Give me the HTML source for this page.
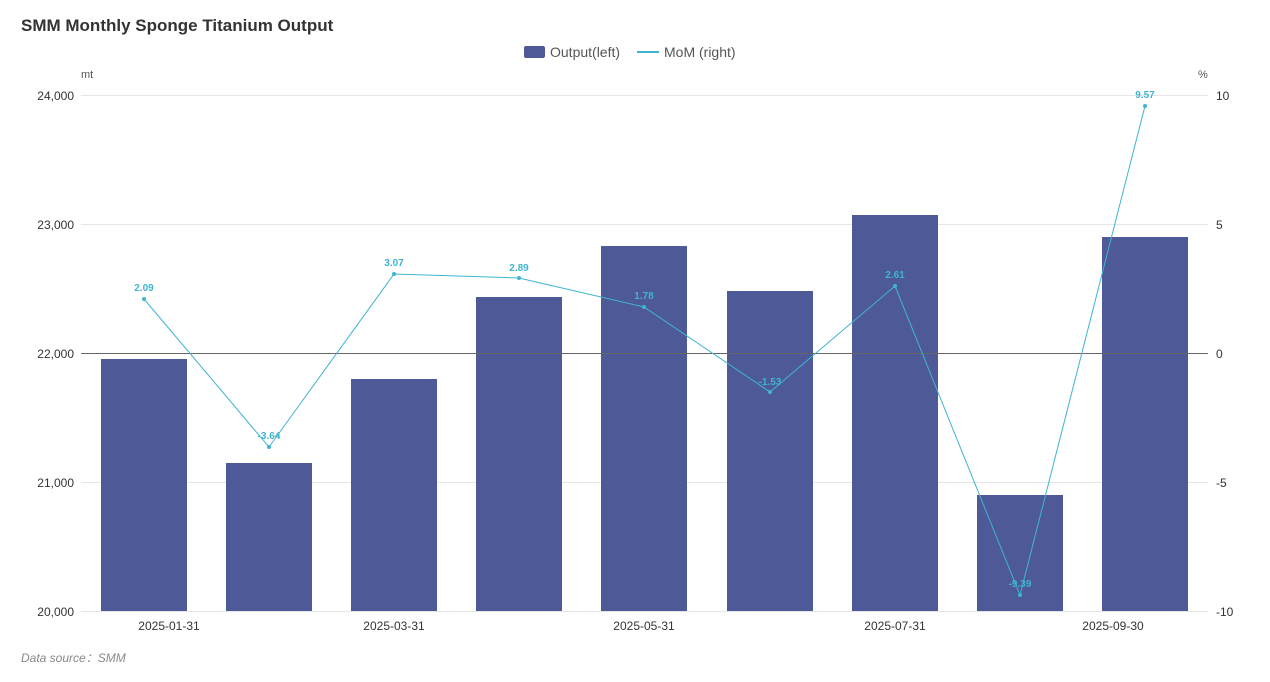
<!DOCTYPE html>
<html><head><meta charset="utf-8"><style>
body{margin:0;background:#fff;width:1270px;height:677px;overflow:hidden;font-family:"Liberation Sans",sans-serif;}
</style></head><body>
<svg width="1270" height="677" xmlns="http://www.w3.org/2000/svg" font-family="Liberation Sans, sans-serif">
<text x="21" y="31" font-size="17" font-weight="bold" fill="#333">SMM Monthly Sponge Titanium Output</text>
<rect x="524" y="46" width="21" height="12" fill="#4e5a97" rx="2"/>
<text x="550" y="57" font-size="14" fill="#555">Output(left)</text>
<line x1="637" y1="52" x2="659" y2="52" stroke="#3fb4d1" stroke-width="2"/>
<text x="664" y="57" font-size="14" fill="#555">MoM (right)</text>
<text x="81" y="78" font-size="11" fill="#555">mt</text>
<text x="1198" y="78" font-size="11" fill="#555">%</text>
<g stroke="#e6e6e6" stroke-width="1">
<line x1="81" y1="95.5" x2="1208" y2="95.5"/>
<line x1="81" y1="224.5" x2="1208" y2="224.5"/>
<line x1="81" y1="482.5" x2="1208" y2="482.5"/>
<line x1="81" y1="611.5" x2="1208" y2="611.5"/>
</g>
<g font-size="12" fill="#333" text-anchor="end">
<text x="74" y="100">24,000</text><text x="74" y="229">23,000</text><text x="74" y="358">22,000</text><text x="74" y="487">21,000</text><text x="74" y="616">20,000</text>
</g>
<g font-size="12" fill="#333" text-anchor="start">
<text x="1216" y="100">10</text><text x="1216" y="229">5</text><text x="1216" y="358">0</text><text x="1216" y="487">-5</text><text x="1216" y="616">-10</text>
</g>
<g fill="#4e5a97">
<rect x="101" y="359" width="86" height="252"/>
<rect x="226" y="463" width="86" height="148"/>
<rect x="351" y="379" width="86" height="232"/>
<rect x="476" y="297" width="86" height="314"/>
<rect x="601" y="246" width="86" height="365"/>
<rect x="727" y="291" width="86" height="320"/>
<rect x="852" y="215" width="86" height="396"/>
<rect x="977" y="495" width="86" height="116"/>
<rect x="1102" y="237" width="86" height="374"/>
</g>
<line x1="81" y1="353.5" x2="1208" y2="353.5" stroke="#666" stroke-width="1"/>
<g font-size="12" fill="#333" text-anchor="middle">
<text x="169" y="630">2025-01-31</text><text x="394" y="630">2025-03-31</text><text x="644" y="630">2025-05-31</text><text x="895" y="630">2025-07-31</text><text x="1113" y="630">2025-09-30</text>
</g>
<polyline fill="none" stroke="#3fb4d1" stroke-width="1" points="144,299 269,447 394,274 519,278 644,307 770,392 895,286 1020,595 1145,106"/>
<g fill="#3fb4d1">
<circle cx="144" cy="299" r="2"/><circle cx="269" cy="447" r="2"/><circle cx="394" cy="274" r="2"/><circle cx="519" cy="278" r="2"/><circle cx="644" cy="307" r="2"/><circle cx="770" cy="392" r="2"/><circle cx="895" cy="286" r="2"/><circle cx="1020" cy="595" r="2"/><circle cx="1145" cy="106" r="2"/>
</g>
<g font-size="10" font-weight="bold" fill="#3fb4d1" text-anchor="middle">
<text x="144" y="291">2.09</text><text x="269" y="439">-3.64</text><text x="394" y="266">3.07</text><text x="519" y="271">2.89</text><text x="644" y="299">1.78</text><text x="770" y="385">-1.53</text><text x="895" y="278">2.61</text><text x="1020" y="587">-9.39</text><text x="1145" y="98">9.57</text>
</g>
<text x="21" y="662" font-size="12" font-style="italic" fill="#888">Data source：SMM</text>
</svg>
</body></html>
